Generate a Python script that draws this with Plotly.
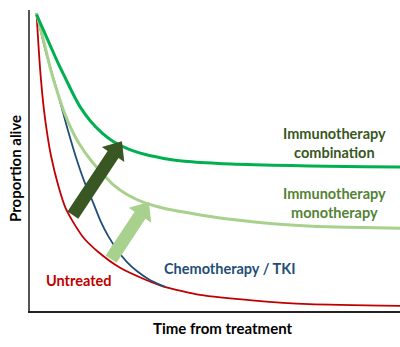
import math
import plotly.graph_objects as go

# ---- data (time units 0..100, proportion alive 0..1) ----
untreated_t = [0, 0.5, 1, 2, 3, 4, 6, 8, 10, 13, 17, 23, 30, 35, 45, 60, 75, 100]
untreated_y = [1.0, 0.90, 0.81, 0.68, 0.59, 0.52, 0.42, 0.345, 0.30, 0.245, 0.198, 0.145, 0.105, 0.082, 0.054, 0.035, 0.023, 0.017]

chemo_t = [0, 2.8, 5.6, 8.4, 11.1, 13.3, 15.3, 17.5, 19.7, 22.2, 24.9, 27.6, 31.2, 35.4]
chemo_y = [1.0, 0.859, 0.742, 0.617, 0.507, 0.430, 0.372, 0.305, 0.252, 0.205, 0.164, 0.134, 0.104, 0.081]

mono_t = [0, 2, 4, 6, 8, 10, 12, 15, 18, 21, 25, 30, 35, 40, 50, 60, 70, 80, 90, 100]
mono_y = [1.0, 0.905, 0.805, 0.725, 0.655, 0.60, 0.556, 0.505, 0.463, 0.425, 0.39, 0.362, 0.345, 0.333, 0.313, 0.299, 0.289, 0.283, 0.28, 0.278]

combo_t = [0, 2, 4, 6, 8, 10, 12, 15, 18, 21, 25, 30, 35, 40, 50, 60, 70, 80, 90, 100]
combo_y = [0.995, 0.94, 0.885, 0.83, 0.78, 0.73, 0.685, 0.635, 0.598, 0.57, 0.545, 0.525, 0.512, 0.503, 0.495, 0.491, 0.488, 0.486, 0.484, 0.483]

# arrows: (tail_t, tail_y, tip_t, tip_y)
arrow_combo = (10.0, 0.322, 23.5, 0.570)
arrow_mono = (20.5, 0.174, 30.9, 0.366)

FONT = "Lato"
RED = "#c00000"
BLUE = "#1f4e79"
GREEN = "#00b050"
LIGHT = "#a9d18e"
DARK = "#385723"
OLIVE = "#548235"

W, H = 400, 347
ML, MR, MT, MB = 30, 0, 10, 36
XR = [-1.79, 100]
YR = [0, 1.0101]
PW, PH = W - ML - MR, H - MT - MB

def d2p(t, y):
    return (ML + (t - XR[0]) / (XR[1] - XR[0]) * PW, MT + PH - (y - YR[0]) / (YR[1] - YR[0]) * PH)

def p2d(px, py):
    return (XR[0] + (px - ML) / PW * (XR[1] - XR[0]), YR[0] + (MT + PH - py) / PH * (YR[1] - YR[0]))

def arrow_path(a, shaft=13, head_w=27, head_l=16):
    x0, y0 = d2p(a[0], a[1])
    x1, y1 = d2p(a[2], a[3])
    L = math.hypot(x1 - x0, y1 - y0)
    ux, uy = (x1 - x0) / L, (y1 - y0) / L
    nx, ny = -uy, ux
    bx, by = x1 - ux * head_l, y1 - uy * head_l
    pts = [(x0 + nx * shaft / 2, y0 + ny * shaft / 2),
           (bx + nx * shaft / 2, by + ny * shaft / 2),
           (bx + nx * head_w / 2, by + ny * head_w / 2),
           (x1, y1),
           (bx - nx * head_w / 2, by - ny * head_w / 2),
           (bx - nx * shaft / 2, by - ny * shaft / 2),
           (x0 - nx * shaft / 2, y0 - ny * shaft / 2)]
    d = [p2d(*p) for p in pts]
    return "M " + " L ".join(f"{t:.4f},{y:.5f}" for t, y in d) + " Z"

fig = go.Figure()
fig.add_trace(go.Scatter(x=untreated_t, y=untreated_y, mode="lines",
                         line=dict(color=RED, width=1.8, shape="spline", smoothing=0.6)))
fig.add_trace(go.Scatter(x=chemo_t, y=chemo_y, mode="lines",
                         line=dict(color=BLUE, width=1.8, shape="spline", smoothing=0.6)))
fig.add_trace(go.Scatter(x=mono_t, y=mono_y, mode="lines",
                         line=dict(color=LIGHT, width=3, shape="spline", smoothing=0.6)))
fig.add_trace(go.Scatter(x=combo_t, y=combo_y, mode="lines",
                         line=dict(color=GREEN, width=3, shape="spline", smoothing=0.6)))

shapes = [
    dict(type="path", xref="x", yref="y", path=arrow_path(arrow_combo), fillcolor=DARK,
         line=dict(width=0), layer="above"),
    dict(type="path", xref="x", yref="y", path=arrow_path(arrow_mono), fillcolor=LIGHT,
         line=dict(width=0), layer="above"),
]

lab = dict(family=FONT, size=14.5)

def px_to_paper(px, py):
    return (px - ML) / PW, (H - MB - py) / PH

tx, ty = px_to_paper(223, 328)
yx, yy = px_to_paper(15, 169)

annotations = [
    dict(x=82.0, y=0.564, xref="x", yref="y", text="<b>Immunotherapy<br>combination</b>",
         xanchor="center", yanchor="middle",
         showarrow=False, font=dict(color=DARK, **lab), align="center"),
    dict(x=82.0, y=0.364, xref="x", yref="y", text="<b>Immunotherapy<br>monotherapy</b>",
         xanchor="center", yanchor="middle",
         showarrow=False, font=dict(color=OLIVE, **lab), align="center"),
    dict(x=34.6, y=0.144, xref="x", yref="y", text="<b>Chemotherapy / TKI</b>",
         xanchor="left", yanchor="middle",
         showarrow=False, font=dict(color=BLUE, **lab)),
    dict(x=11.8, y=0.104, xref="x", yref="y", text="<b>Untreated</b>",
         xanchor="center", yanchor="middle",
         showarrow=False, font=dict(color=RED, **lab)),
    dict(x=tx, y=ty, xref="paper", yref="paper", text="<b>Time from treatment</b>",
         xanchor="center", yanchor="middle",
         showarrow=False, font=dict(color="#000000", family=FONT, size=15)),
    dict(x=yx, y=yy, xref="paper", yref="paper", text="<b>Proportion alive</b>",
         xanchor="center", yanchor="middle", textangle=-90, showarrow=False,
         font=dict(color="#000000", family=FONT, size=15)),
]

fig.update_layout(
    width=W, height=H, margin=dict(l=ML, r=MR, t=MT, b=MB),
    paper_bgcolor="white", plot_bgcolor="white", showlegend=False,
    annotations=annotations, shapes=shapes,
    xaxis=dict(range=XR, showgrid=False, zeroline=False, showticklabels=False,
               ticks="", showline=True, linecolor="#222222", linewidth=1.5),
    yaxis=dict(range=YR, showgrid=False, zeroline=False, showticklabels=False,
               ticks="", showline=True, linecolor="#555555", linewidth=1.5),
)
fig.write_html("out.html")
